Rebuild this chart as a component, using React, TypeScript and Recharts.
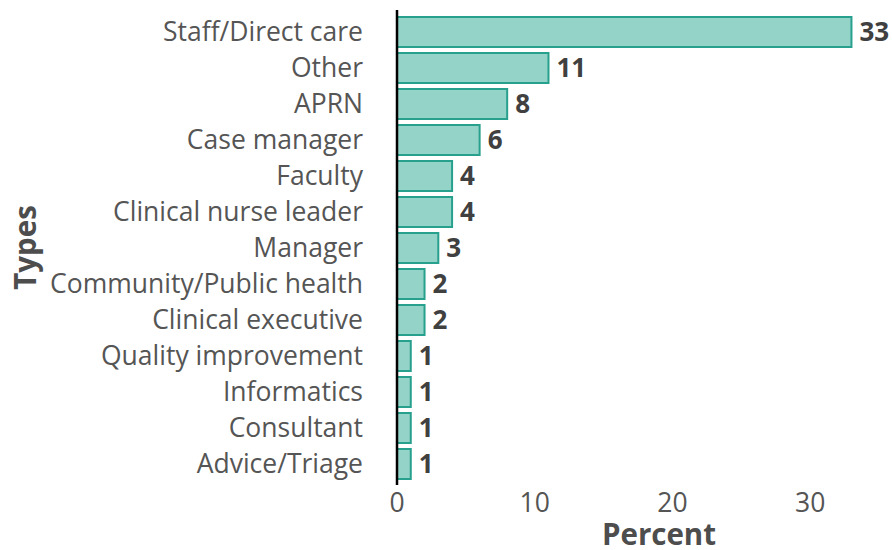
import { BarChart, Bar, XAxis, YAxis, LabelList } from 'recharts';

const categories = [
  'Staff/Direct care',
  'Other',
  'APRN',
  'Case manager',
  'Faculty',
  'Clinical nurse leader',
  'Manager',
  'Community/Public health',
  'Clinical executive',
  'Quality improvement',
  'Informatics',
  'Consultant',
  'Advice/Triage',
];

const percents = [33, 11, 8, 6, 4, 4, 3, 2, 2, 1, 1, 1, 1];

const xTicks = [0, 10, 20, 30];

const FONT = '"Open Sans", sans-serif';

const TypesLabel = ({ viewBox }: any) => {
  const cx = viewBox.x + 24;
  const cy = viewBox.y + viewBox.height / 2;
  return (
    <text
      x={cx}
      y={cy}
      transform={`rotate(-90, ${cx}, ${cy})`}
      textAnchor="middle"
      dominantBaseline="central"
      fontFamily={FONT}
      fontWeight={700}
      fontSize={29.5}
      fill="#4d4d4d"
    >
      Types
    </text>
  );
};

export default function App() {
  const data = categories.map((name, i) => ({ name, value: percents[i] }));

  return (
    <div style={{ position: 'absolute', left: 0, top: 0, background: '#fff' }}>
      <BarChart
        width={892}
        height={550}
        data={data}
        layout="vertical"
        margin={{ top: 10, right: 13, bottom: 0, left: 0 }}
      >
        <XAxis
          type="number"
          domain={[0, 35]}
          ticks={xTicks}
          axisLine={false}
          tickLine={false}
          height={65}
          tick={{ fontSize: 26.5, fill: '#555555', fontFamily: FONT }}
          label={{
            value: 'Percent',
            position: 'insideBottom',
            offset: 5,
            dx: 21,
            fontSize: 29.5,
            fontWeight: 700,
            fill: '#4d4d4d',
            fontFamily: FONT,
          }}
        />
        <YAxis
          type="category"
          dataKey="name"
          width={397}
          padding={{ top: 4, bottom: 3 }}
          axisLine={{ stroke: '#000', strokeWidth: 2.5 }}
          tickLine={false}
          tickSize={0}
          tickMargin={34}
          interval={0}
          tick={{ fontSize: 26.5, fill: '#555555', fontFamily: FONT }}
          label={<TypesLabel />}
        />
        <Bar
          dataKey="value"
          fill="#93d3c8"
          stroke="#28a08e"
          strokeWidth={2}
          barSize={30}
          isAnimationActive={false}
        >
          <LabelList
            dataKey="value"
            position="right"
            offset={8}
            fontFamily={FONT}
            fontWeight={700}
            fontSize={26}
            fill="#404040"
          />
        </Bar>
      </BarChart>
    </div>
  );
}
